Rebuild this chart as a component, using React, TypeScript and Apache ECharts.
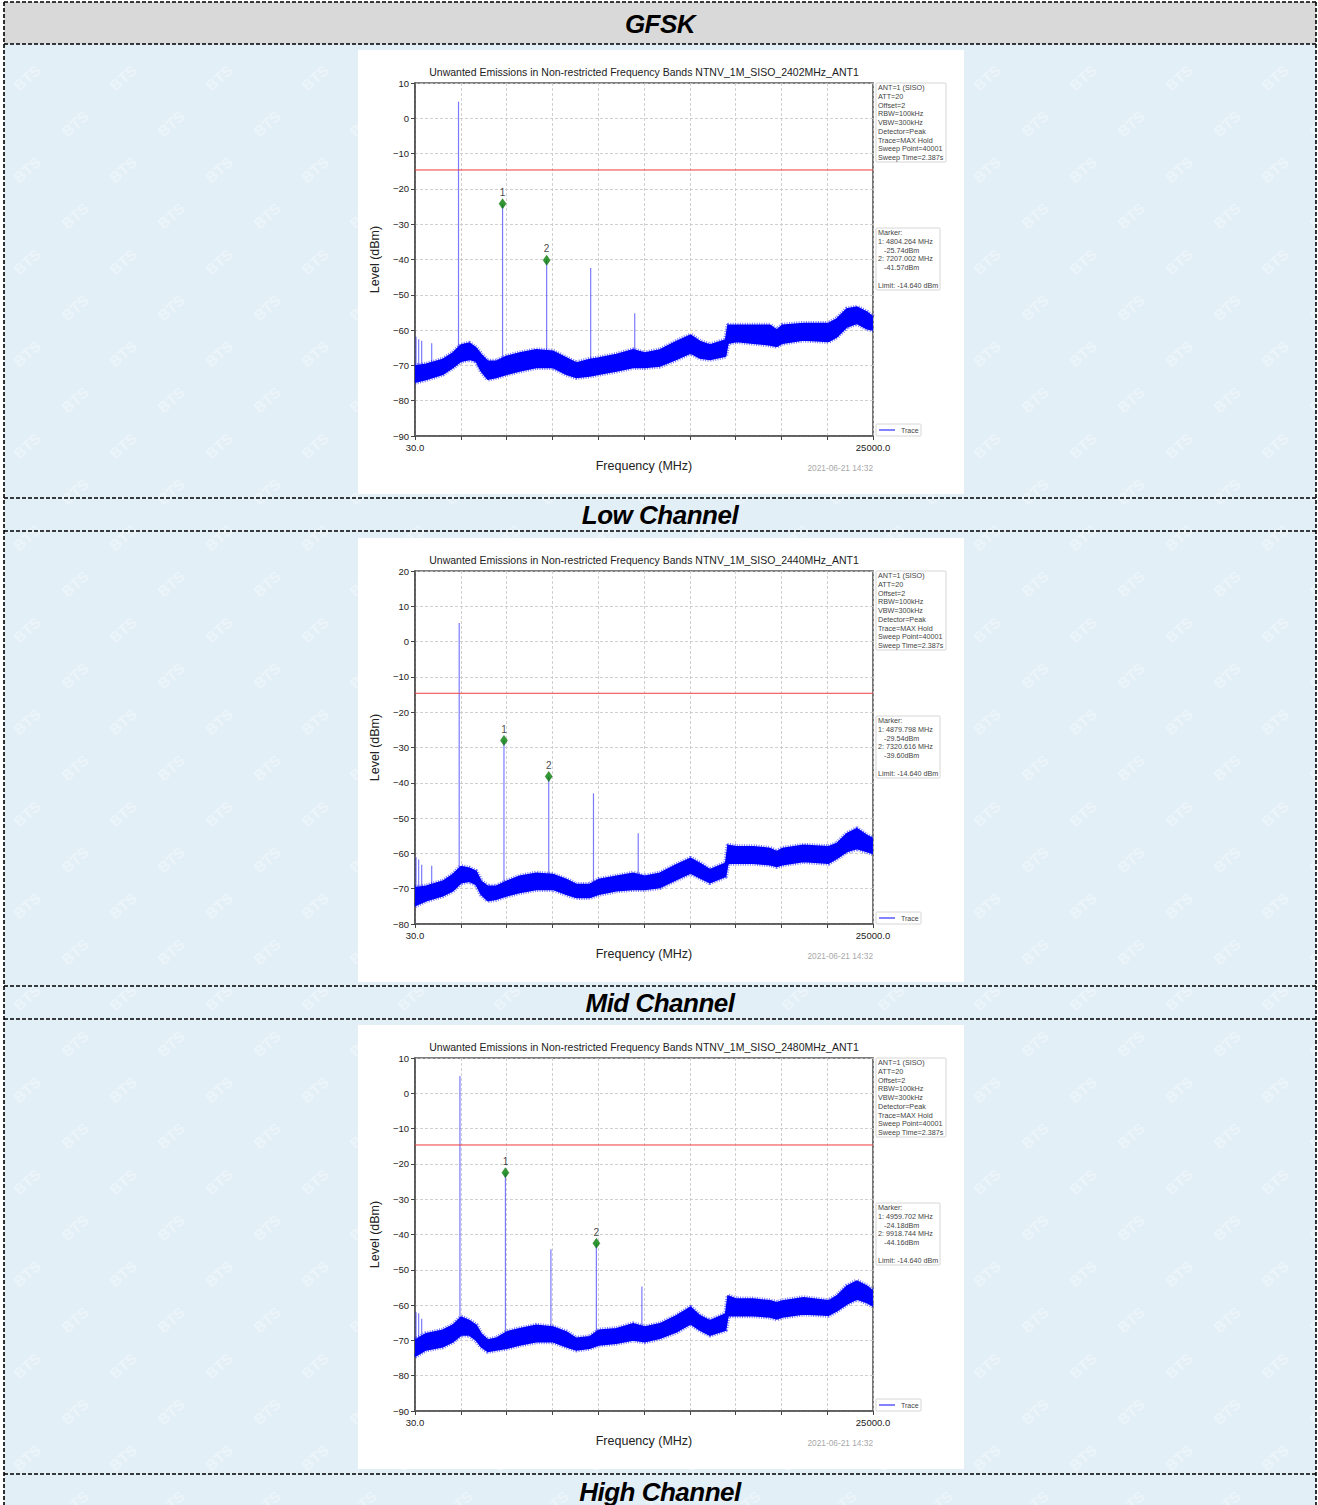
import React, { useEffect, useRef } from "react";
import * as echarts from "echarts";

// ---------------- data ----------------
const FREQ_MIN = 30;
const FREQ_MAX = 25000;
const FREQ_TICK = 2497;
const LIMIT_DBM = -14.64;

const BAND_FREQ = [30, 631, 1541, 2088, 2543, 2998, 3363, 3636, 4000, 4455, 5038, 5730, 6640, 7551, 8279, 8826, 9554, 10046, 11011, 11921, 12559, 13378, 14288, 15053, 15563, 16109, 16965, 17093, 17566, 18477, 19387, 19752, 20061, 21208, 22574, 23029, 23575, 24122, 24668, 25000];

const LOW_TOP = [-70.2, -69.7, -68.3, -66.5, -64.2, -63.7, -65.1, -66.9, -68.8, -68.8, -67.4, -66.5, -65.6, -66.0, -67.9, -69.3, -68.3, -67.9, -66.9, -65.6, -66.5, -65.6, -63.2, -61.4, -63.2, -64.2, -62.8, -58.6, -58.6, -58.6, -58.6, -60.0, -58.6, -58.1, -58.1, -56.8, -54.0, -53.5, -54.9, -56.3];
const LOW_BOTTOM = [-74.8, -74.0, -72.5, -70.6, -68.8, -68.3, -68.8, -71.6, -73.9, -73.4, -72.5, -71.6, -70.6, -70.6, -72.5, -73.4, -73.0, -72.5, -71.6, -70.6, -70.6, -70.2, -68.3, -66.5, -67.9, -68.3, -67.4, -63.7, -63.2, -63.7, -64.2, -64.6, -63.7, -62.8, -63.2, -61.9, -59.1, -58.1, -59.6, -60.0];
const LOW_SPIKES = [[85, -61.9], [230, -62.6], [394, -63.0], [940, -63.7], [2402, 4.7], [4804, -24.2], [7207, -40.2], [9608, -42.4], [12010, -55.2]];
const LOW_MARKERS = [[4804.264, -24.2, "1"], [7207.002, -40.2, "2"]];
const LOW_MARKER_TEXT = ["1: 4804.264 MHz", "-25.74dBm", "2: 7207.002 MHz", "-41.57dBm"];

const MID_TOP = [-69.7, -69.3, -67.9, -66.0, -63.7, -64.2, -65.1, -67.9, -69.3, -69.3, -67.9, -66.5, -65.6, -66.0, -67.4, -68.8, -68.8, -67.4, -66.5, -65.6, -66.5, -65.6, -63.2, -61.4, -62.8, -64.6, -62.8, -57.7, -58.1, -58.1, -58.6, -59.5, -58.6, -57.7, -58.1, -57.2, -54.4, -53.0, -54.9, -55.8];
const MID_BOTTOM = [-74.8, -73.4, -72.0, -70.6, -68.3, -67.9, -68.8, -71.6, -73.4, -73.0, -72.0, -71.1, -70.2, -70.2, -71.6, -72.5, -72.5, -71.6, -70.6, -70.2, -70.2, -69.7, -67.4, -65.6, -66.9, -68.3, -66.5, -62.8, -62.8, -62.8, -63.2, -63.7, -63.2, -62.3, -62.8, -61.4, -59.5, -58.6, -59.5, -60.0];
const MID_SPIKES = [[85, -61.0], [230, -61.7], [394, -63.2], [940, -63.5], [2440, 5.3], [4880, -28.0], [7321, -38.2], [9760, -43.0], [12200, -54.3]];
const MID_MARKERS = [[4879.798, -28.0, "1"], [7320.616, -38.2, "2"]];
const MID_MARKER_TEXT = ["1: 4879.798 MHz", "-29.54dBm", "2: 7320.616 MHz", "-39.60dBm"];

const HIGH_TOP = [-69.9, -68.1, -67.1, -65.7, -63.4, -64.4, -65.7, -68.1, -69.9, -69.4, -67.6, -66.7, -65.7, -66.2, -67.6, -69.4, -69.0, -67.1, -66.7, -65.3, -66.2, -65.3, -63.0, -60.6, -63.0, -64.4, -62.5, -57.4, -58.3, -58.3, -58.8, -59.3, -58.8, -57.9, -58.8, -57.4, -54.6, -53.2, -54.6, -56.0];
const HIGH_BOTTOM = [-74.5, -72.7, -71.8, -70.4, -68.5, -68.5, -69.9, -71.8, -73.1, -72.7, -72.2, -71.3, -70.4, -70.4, -71.8, -72.7, -72.2, -71.3, -70.8, -69.9, -70.4, -69.4, -67.6, -65.3, -67.1, -68.5, -67.1, -63.0, -63.0, -63.0, -63.4, -63.9, -63.4, -62.5, -62.9, -61.6, -59.7, -58.3, -59.3, -60.2];
const HIGH_SPIKES = [[85, -62.0], [230, -62.3], [394, -63.9], [2480, 4.9], [4960, -22.5], [7440, -44.2], [9919, -42.5], [12400, -54.7]];
const HIGH_MARKERS = [[4959.702, -22.5, "1"], [9918.744, -42.5, "2"]];
const HIGH_MARKER_TEXT = ["1: 4959.702 MHz", "-24.18dBm", "2: 9918.744 MHz", "-44.16dBm"];

const SETTINGS_TEXT = ["ANT=1 (SISO)", "ATT=20", "Offset=2", "RBW=100kHz", "VBW=300kHz", "Detector=Peak", "Trace=MAX Hold", "Sweep Point=40001", "Sweep Time=2.387s"];
const TIMESTAMP = "2021-06-21 14:32";
const ROW_LABELS = ["GFSK", "Low Channel", "Mid Channel", "High Channel"];

const PANELS = [
  { title: "Unwanted Emissions in Non-restricted Frequency Bands NTNV_1M_SISO_2402MHz_ANT1", yMin: -90, yMax: 10, top: LOW_TOP, bottom: LOW_BOTTOM, spikes: LOW_SPIKES, markers: LOW_MARKERS, markerText: LOW_MARKER_TEXT },
  { title: "Unwanted Emissions in Non-restricted Frequency Bands NTNV_1M_SISO_2440MHz_ANT1", yMin: -80, yMax: 20, top: MID_TOP, bottom: MID_BOTTOM, spikes: MID_SPIKES, markers: MID_MARKERS, markerText: MID_MARKER_TEXT },
  { title: "Unwanted Emissions in Non-restricted Frequency Bands NTNV_1M_SISO_2480MHz_ANT1", yMin: -90, yMax: 10, top: HIGH_TOP, bottom: HIGH_BOTTOM, spikes: HIGH_SPIKES, markers: HIGH_MARKERS, markerText: HIGH_MARKER_TEXT },
];

// ---------------- layout ----------------
const FONT = '"Liberation Sans", Arial, Helvetica, sans-serif';
const CHART_W = 606;
const CHART_H = 444;
const PANEL_X = 358;
const PANEL_TOPS = [50, 538, 1025];
const GRID = { left: 57, top: 33, width: 458, height: 353 };

// foot of a spike: the middle of the noise band at that frequency
function bandMid(f: number, top: number[], bottom: number[]) {
  for (let i = 0; i < BAND_FREQ.length - 1; i++) {
    if (f >= BAND_FREQ[i] && f <= BAND_FREQ[i + 1]) {
      const t = (f - BAND_FREQ[i]) / (BAND_FREQ[i + 1] - BAND_FREQ[i]);
      const a = (top[i] + bottom[i]) / 2;
      const b = (top[i + 1] + bottom[i + 1]) / 2;
      return a + (b - a) * t;
    }
  }
  return (top[0] + bottom[0]) / 2;
}

function buildOption(p: any) {
  const minus = (v: number) => (v < 0 ? "\u2212" + Math.abs(v) : String(v));
  const textLines = (lines: string[], x: number, y0: number, lh: number, indents?: number[]) =>
    lines.map((t, i) => ({
      type: "text",
      x: x + (indents ? indents[i] : 0),
      y: y0 + i * lh,
      style: { text: t, fontSize: 7.2, fontFamily: FONT, fill: "#444", textVerticalAlign: "middle" },
    }));

  const markerLines = ["Marker:", p.markerText[0], p.markerText[1], p.markerText[2], p.markerText[3]];
  const boxX = 518;

  const graphic: any[] = [
    {
      type: "text",
      x: GRID.left + GRID.width / 2,
      y: 22,
      style: { text: p.title, fontSize: 10.5, fontFamily: FONT, fill: "#222", textAlign: "center", textVerticalAlign: "middle" },
    },
    { type: "rect", shape: { x: boxX, y: 33, width: 70, height: 79, r: 1 }, style: { fill: "#fff", stroke: "#d6d6d6", lineWidth: 1 } },
    ...textLines(SETTINGS_TEXT, boxX + 2, 37.5, 8.75),
    { type: "rect", shape: { x: boxX, y: 178, width: 64, height: 62, r: 1 }, style: { fill: "#fff", stroke: "#d6d6d6", lineWidth: 1 } },
    ...textLines(markerLines, boxX + 2, 182.5, 8.75, [0, 0, 6, 0, 6]),
    ...textLines(["Limit: -14.640 dBm"], boxX + 2, 235.5, 8.75),
    { type: "rect", shape: { x: boxX, y: 374, width: 45, height: 12, r: 1 }, style: { fill: "#fff", stroke: "#d6d6d6", lineWidth: 1 } },
    { type: "line", shape: { x1: boxX + 3, y1: 380, x2: boxX + 19, y2: 380 }, style: { stroke: "#4040ff", lineWidth: 1.3 } },
    { type: "text", x: boxX + 25, y: 380, style: { text: "Trace", fontSize: 7, fontFamily: FONT, fill: "#444", textVerticalAlign: "middle" } },
    { type: "text", x: GRID.left + GRID.width, y: 418, style: { text: TIMESTAMP, fontSize: 8.3, fontFamily: FONT, fill: "#a8a8a8", textAlign: "right", textVerticalAlign: "middle" } },
  ];

  const bandData = BAND_FREQ.map((f, i) => [f, p.top[i], p.bottom[i]]);
  const spikeData = p.spikes.map((s: number[]) => [s[0], s[1], bandMid(s[0], p.top, p.bottom)]);

  const fuzz = (vals: number[]) => ({
    type: "line",
    data: BAND_FREQ.map((f, i) => [f, vals[i]]),
    showSymbol: false,
    silent: true,
    lineStyle: { color: "rgba(0,0,255,0.55)", width: 5, type: [1, 1.4] },
    z: 3,
  });

  return {
    animation: false,
    backgroundColor: "#ffffff",
    textStyle: { fontFamily: FONT },
    grid: { ...GRID, show: true, borderColor: "#555", borderWidth: 1.6, backgroundColor: "transparent" },
    xAxis: {
      type: "value",
      min: FREQ_MIN,
      max: FREQ_MAX,
      interval: FREQ_TICK,
      name: "Frequency (MHz)",
      nameLocation: "middle",
      nameGap: 23,
      nameTextStyle: { fontSize: 12.5, color: "#222", fontFamily: FONT },
      axisLine: { show: true, onZero: false, lineStyle: { color: "#555", width: 1.6 } },
      axisTick: { show: true, length: 4, lineStyle: { color: "#444", width: 1 } },
      axisLabel: {
        showMinLabel: true,
        showMaxLabel: true,
        hideOverlap: false,
        margin: 6,
        fontSize: 9.5,
        color: "#222",
        fontFamily: FONT,
        formatter: (v: number) => (Math.abs(v - FREQ_MIN) < 1e-6 ? FREQ_MIN.toFixed(1) : Math.abs(v - FREQ_MAX) < 1e-6 ? FREQ_MAX.toFixed(1) : ""),
      },
      splitLine: { show: true, lineStyle: { color: "#c4c4c4", type: [3, 2], width: 0.8 } },
    },
    yAxis: {
      type: "value",
      min: p.yMin,
      max: p.yMax,
      interval: 10,
      name: "Level (dBm)",
      nameLocation: "middle",
      nameGap: 29,
      nameTextStyle: { fontSize: 12.5, color: "#222", fontFamily: FONT },
      axisLine: { show: true, onZero: false, lineStyle: { color: "#555", width: 1.6 } },
      axisTick: { show: true, length: 4, lineStyle: { color: "#444", width: 1 } },
      axisLabel: { margin: 6, fontSize: 9.5, color: "#222", fontFamily: FONT, formatter: minus },
      splitLine: { show: true, lineStyle: { color: "#c4c4c4", type: [3, 2], width: 0.8 } },
    },
    graphic,
    series: [
      {
        type: "custom",
        name: "spikes",
        data: spikeData,
        clip: true,
        renderItem: (_params: any, api: any) => {
          const f = api.value(0);
          const top = api.coord([f, api.value(1)]);
          const base = api.coord([f, api.value(2)]);
          return {
            type: "line",
            shape: { x1: top[0], y1: top[1], x2: base[0], y2: base[1] },
            style: { stroke: "rgba(40,40,255,0.62)", lineWidth: 1.2 },
          };
        },
        z: 2,
      },
      {
        type: "custom",
        name: "Trace",
        data: bandData,
        clip: true,
        renderItem: (params: any, api: any) => {
          if (params.dataIndex !== 0) return null;
          const pts: number[][] = [];
          for (let i = 0; i < BAND_FREQ.length; i++) pts.push(api.coord([BAND_FREQ[i], p.top[i]]));
          for (let i = BAND_FREQ.length - 1; i >= 0; i--) pts.push(api.coord([BAND_FREQ[i], p.bottom[i]]));
          return { type: "polygon", shape: { points: pts }, style: { fill: "#0000ff", stroke: "#0000ff", lineWidth: 1.5 } };
        },
        z: 3,
      },
      fuzz(p.top),
      fuzz(p.bottom),
      {
        type: "line",
        name: "Limit",
        data: [[FREQ_MIN, LIMIT_DBM], [FREQ_MAX, LIMIT_DBM]],
        showSymbol: false,
        lineStyle: { color: "#f03c3c", width: 1 },
        z: 4,
      },
      {
        type: "scatter",
        name: "Marker",
        data: p.markers,
        symbol: "diamond",
        symbolSize: [7, 10],
        itemStyle: { color: "#008000", borderColor: "#005a00", borderWidth: 0.5 },
        label: { show: true, position: "top", distance: 1, fontSize: 10, color: "#111", fontFamily: FONT, formatter: (d: any) => d.value[2] },
        z: 5,
      },
    ],
  };
}

function Chart({ panel }: { panel: any }) {
  const ref = useRef<HTMLDivElement>(null);
  useEffect(() => {
    if (!ref.current) return;
    const chart = echarts.init(ref.current, undefined, { renderer: "svg" });
    chart.setOption(buildOption(panel) as any);
    return () => chart.dispose();
  }, [panel]);
  return <div ref={ref} style={{ width: CHART_W, height: CHART_H }} />;
}

const WATERMARK_SVG =
  "<svg xmlns='http://www.w3.org/2000/svg' width='96' height='92'>" +
  "<g font-family='Arial' font-weight='bold' font-size='15' fill='#ffffff' fill-opacity='0.3'>" +
  "<text x='8' y='40' transform='rotate(-42 22 34)'>BTS</text>" +
  "<text x='56' y='86' transform='rotate(-42 70 80)'>BTS</text>" +
  "</g></svg>";
const WATERMARK = `url("data:image/svg+xml,${encodeURIComponent(WATERMARK_SVG)}")`;

const ROW_LINES = [2, 44, 498, 531, 986, 1019, 1474];
const LABEL_ROWS = [
  { top: 2, height: 42 },
  { top: 498, height: 33 },
  { top: 986, height: 33 },
  { top: 1474, height: 36 },
];

export default function App() {
  return (
    <div style={{ position: "absolute", left: 0, top: 0, width: 1318, height: 1505, overflow: "hidden", background: "#fff", fontFamily: FONT }}>
      <div style={{ position: "absolute", left: 4, top: 44, width: 1312, height: 1470, background: "#e3eff7", backgroundImage: WATERMARK }} />
      <div style={{ position: "absolute", left: 4, top: 2, width: 1312, height: 42, background: "#d9d9d9" }} />
      {LABEL_ROWS.map((r, i) => (
        <div
          key={i}
          style={{
            position: "absolute",
            left: 4,
            top: r.top,
            width: 1312,
            height: r.height,
            display: "flex",
            alignItems: "center",
            justifyContent: "center",
            fontSize: 26,
            fontWeight: "bold",
            fontStyle: "italic",
            color: "#000",
            fontFamily: FONT,
            letterSpacing: -0.5,
            paddingTop: i === 3 ? 0 : 1,
          }}
        >
          {ROW_LABELS[i]}
        </div>
      ))}
      {PANELS.map((p, i) => (
        <div key={i} style={{ position: "absolute", left: PANEL_X, top: PANEL_TOPS[i], width: CHART_W, height: CHART_H, background: "#fff" }}>
          <Chart panel={p} />
        </div>
      ))}
      <svg style={{ position: "absolute", left: 0, top: 0 }} width={1318} height={1505}>
        {ROW_LINES.map((y) => (
          <line key={y} x1={4} y1={y} x2={1317} y2={y} stroke="#000" strokeWidth={1.6} strokeDasharray="4 2" />
        ))}
        <line x1={4} y1={2} x2={4} y2={1505} stroke="#000" strokeWidth={1.6} strokeDasharray="4 2" />
        <line x1={1316} y1={2} x2={1316} y2={1505} stroke="#000" strokeWidth={1.6} strokeDasharray="4 2" />
      </svg>
    </div>
  );
}
